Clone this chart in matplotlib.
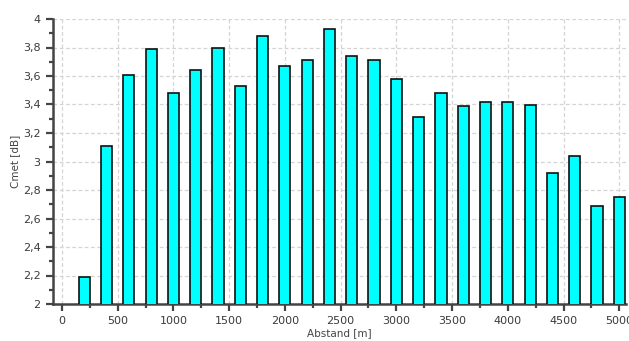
import matplotlib
matplotlib.use("Agg")
import matplotlib.pyplot as plt
from matplotlib.ticker import MultipleLocator, FuncFormatter

distance = [200, 400, 600, 800, 1000, 1200, 1400, 1600, 1800, 2000, 2200, 2400, 2600,
            2800, 3000, 3200, 3400, 3600, 3800, 4000, 4200, 4400, 4600, 4800, 5000]
cmet = [2.19, 3.11, 3.61, 3.79, 3.48, 3.64, 3.80, 3.53, 3.88, 3.67, 3.71, 3.93, 3.74,
        3.71, 3.58, 3.31, 3.48, 3.39, 3.42, 3.42, 3.40, 2.92, 3.04, 2.69, 2.75]

fig = plt.figure(figsize=(6.29, 3.41), dpi=100)
ax = fig.add_axes([53/629, 37/341, (626-53)/629, (304-19)/341])

ax.bar(distance, cmet, width=100, bottom=0, color="#00FFFF", edgecolor="#111111",
       linewidth=1.2, zorder=3)

ax.set_xlim(-80, 5060)
ax.set_ylim(2, 4)

ax.xaxis.set_major_locator(MultipleLocator(500))
ax.xaxis.set_minor_locator(MultipleLocator(250))
ax.yaxis.set_major_locator(MultipleLocator(0.2))
ax.yaxis.set_minor_locator(MultipleLocator(0.1))
ax.yaxis.set_major_formatter(FuncFormatter(lambda v, p: ("%g" % round(v, 1)).replace(".", ",")))

ax.grid(True, which="major", linestyle=(0, (3, 2)), color="#d4d4d4", linewidth=0.9, zorder=0)
ax.set_axisbelow(True)

for s in ["top", "right"]:
    ax.spines[s].set_visible(False)
for s in ["left", "bottom"]:
    ax.spines[s].set_color("#444444")
    ax.spines[s].set_linewidth(1.8)

ax.tick_params(axis="both", which="major", length=5, width=1.6, color="#444444",
               labelsize=8, labelcolor="#3a3a3a", direction="out", pad=4)
ax.tick_params(axis="both", which="minor", length=3, width=1.6, color="#444444", direction="out")

ax.set_xlabel("Abstand [m]", fontsize=7.5, color="#444444", labelpad=1)
ax.set_ylabel("Cmet [dB]", fontsize=7.5, color="#444444", labelpad=2)

fig.savefig("out.png", dpi=100)
